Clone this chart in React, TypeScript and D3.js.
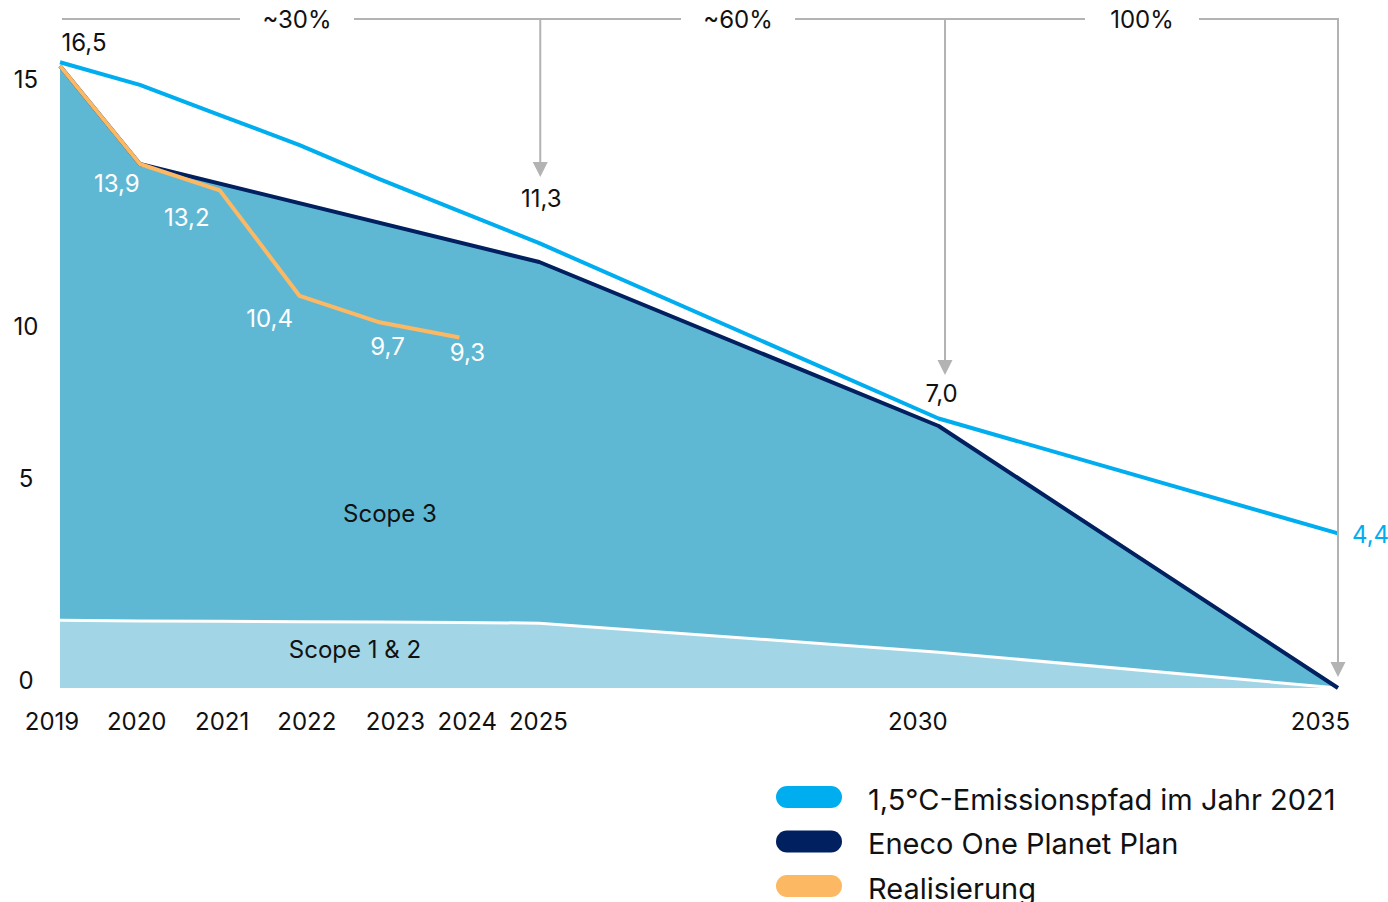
import * as d3 from 'd3';

// data
const years = [2019, 2020, 2021, 2022, 2023, 2024, 2025, 2030, 2035];
const pathway = [16.6, 16.0, 15.2, 14.4, 13.5, 12.65, 11.8, 7.15, 4.1]; // 1,5°C path
const scope12 = [1.8, 1.78, 1.77, 1.76, 1.75, 1.74, 1.72, 0.95, 0];

const planYears = [2019, 2020, 2025, 2030, 2035];
const plan = [16.5, 13.9, 11.3, 6.95, 0];

const realYears = [2019, 2020, 2021, 2022, 2023, 2024];
const real = [16.5, 13.9, 13.2, 10.4, 9.7, 9.3];
const realLabels = ['', '13,9', '13,2', '10,4', '9,7', '9,3'];
const realLabelOffset = [[0, 0], [-23, 19], [-33, 27], [-30, 23], [8, 24], [8, 15]];

const xTickLabels = ['2019', '2020', '2021', '2022', '2023', '2024', '2025', '2030', '2035'];
const xTickAt = [2018.9, 2019.96, 2021.03, 2022.09, 2023.2, 2024.1, 2024.99, 2029.74, 2034.78];
const yTickLabels = ['15', '10', '5', '0'];
const yTickAt = [16.13, 9.58, 5.57, 0.21];

const brackets = ['~30%', '~60%', '100%'];
const bracketTo = [2025, 2030.08, 2035];

const legend = [
  { label: '1,5°C-Emissionspfad im Jahr 2021', color: '#00aeef' },
  { label: 'Eneco One Planet Plan', color: '#002060' },
  { label: 'Realisierung', color: '#fdb863' },
];

const C = {
  path: '#00aeef',
  plan: '#002060',
  real: '#fdb863',
  scope3: '#5fb8d3',
  scope12: '#a2d5e5',
  grey: '#b3b3b3',
};

const FONT = 'Inter, "Noto Sans", sans-serif';
const FS = 24;

export default function App() {
  const width = 1388;
  const height = 902;

  const x = d3.scaleLinear().domain([2019, 2035]).range([60, 1338]);
  const y = d3.scaleLinear().domain([0, 16.5]).range([688, 66]);

  const line = d3.line<[number, number]>().x(d => x(d[0])).y(d => y(d[1]));
  const area = d3.area<[number, number]>().x(d => x(d[0])).y0(y(0)).y1(d => y(d[1]));

  const planPts = planYears.map((yr, i) => [yr, plan[i]] as [number, number]);
  const pathPts = years.map((yr, i) => [yr, pathway[i]] as [number, number]);
  const s12Pts = years.map((yr, i) => [yr, scope12[i]] as [number, number]);
  const realPts = realYears.map((yr, i) => [yr, real[i]] as [number, number]);

  // top bracket: gaps around the percentage texts
  const topY = 19;
  const gapCenters = [297, 738, 1142];
  const gapHalf = 57;
  const segs: [number, number][] = [];
  let start = x(2019) + 2;
  gapCenters.forEach(c => {
    segs.push([start, c - gapHalf]);
    start = c + gapHalf;
  });
  segs.push([start, x(2035)]);

  const arrowEnds = [177, 375, 677];

  return (
    <svg width={width} height={height} style={{ position: 'absolute', left: 0, top: 0, fontFamily: FONT }}>
      <rect width={width} height={height} fill="#fff" />

      {/* areas */}
      <path d={area(planPts) ?? ''} fill={C.scope3} />
      <path d={area(s12Pts) ?? ''} fill={C.scope12} />
      <path d={line(s12Pts) ?? ''} fill="none" stroke="#fff" strokeWidth={3} />

      {/* lines */}
      <path d={line(planPts) ?? ''} fill="none" stroke={C.plan} strokeWidth={4} strokeLinejoin="round" />
      <path d={line(pathPts) ?? ''} fill="none" stroke={C.path} strokeWidth={4} strokeLinejoin="round" />
      <path d={line(realPts) ?? ''} fill="none" stroke={C.real} strokeWidth={4} strokeLinejoin="round" />

      {/* area labels */}
      <text x={390} y={513} fontSize={FS} textAnchor="middle" dominantBaseline="central" fill="#111">Scope 3</text>
      <text x={355} y={649} fontSize={FS} textAnchor="middle" dominantBaseline="central" fill="#111">Scope 1 &amp; 2</text>

      {/* value labels */}
      <text x={84} y={42} fontSize={FS} textAnchor="middle" dominantBaseline="central" fill="#111">16,5</text>
      {realPts.map((p, i) => realLabels[i] ? (
        <text key={i} x={x(p[0]) + realLabelOffset[i][0]} y={y(p[1]) + realLabelOffset[i][1]}
          fontSize={FS} textAnchor="middle" dominantBaseline="central" fill="#fff">{realLabels[i]}</text>
      ) : null)}
      <text x={x(2025) + 2} y={198} fontSize={FS} textAnchor="middle" dominantBaseline="central" fill="#111">11,3</text>
      <text x={x(2030) + 3} y={393} fontSize={FS} textAnchor="middle" dominantBaseline="central" fill="#111">7,0</text>
      <text x={x(2035) + 14} y={y(4.1) + 1} fontSize={FS} dominantBaseline="central" fill={C.path}>4,4</text>

      {/* top bracket + arrows */}
      {segs.map((s, i) => (
        <line key={i} x1={s[0]} x2={s[1]} y1={topY} y2={topY} stroke={C.grey} strokeWidth={2} />
      ))}
      {brackets.map((b, i) => (
        <text key={b} x={gapCenters[i]} y={topY} fontSize={FS} textAnchor="middle" dominantBaseline="central" fill="#111">{b}</text>
      ))}
      {bracketTo.map((yr, i) => {
        const ax = x(yr) + (i === 0 ? 1 : 0);
        const tip = arrowEnds[i];
        return (
          <g key={i}>
            <line x1={ax} x2={ax} y1={topY - 1} y2={tip - 12} stroke={C.grey} strokeWidth={2} />
            <path d={`M${ax - 7.5},${tip - 15}L${ax + 7.5},${tip - 15}L${ax},${tip}Z`} fill={C.grey} />
          </g>
        );
      })}

      {/* axes labels */}
      {xTickLabels.map((t, i) => (
        <text key={t} x={x(xTickAt[i])} y={721} fontSize={FS} textAnchor="middle" dominantBaseline="central" fill="#111">{t}</text>
      ))}
      {yTickLabels.map((t, i) => (
        <text key={t} x={26} y={y(yTickAt[i])} fontSize={FS} textAnchor="middle" dominantBaseline="central" fill="#111">{t}</text>
      ))}

      {/* legend */}
      {legend.map((l, i) => (
        <g key={l.label} transform={`translate(776, ${797 + i * 44.5})`}>
          <rect x={0} y={-11} width={66} height={22} rx={11} fill={l.color} />
          <text x={92} y={2} fontSize={29} dominantBaseline="central" fill="#111">{l.label}</text>
        </g>
      ))}
    </svg>
  );
}
